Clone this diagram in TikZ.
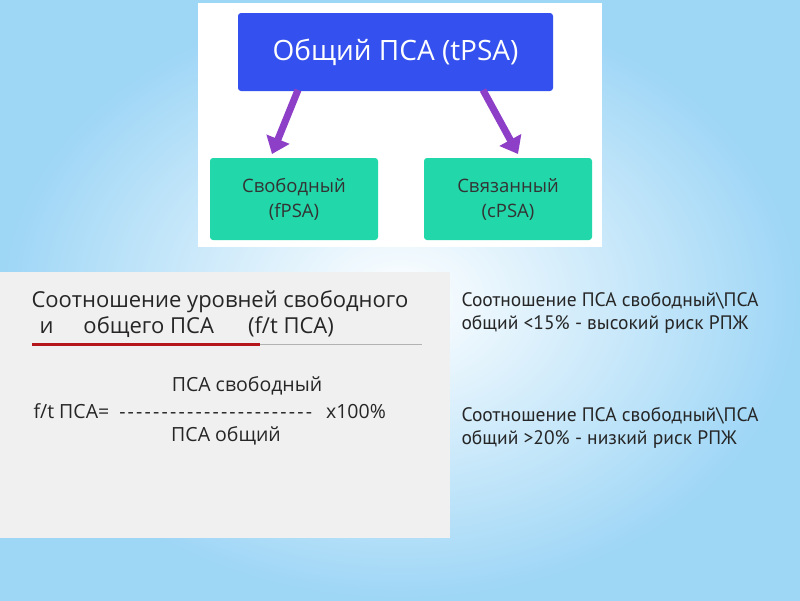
\documentclass[tikz,border=0pt]{standalone}
\usepackage{fontspec}
\setmainfont{Open Sans}
\newfontfamily\ptsans{PT Sans}
\usetikzlibrary{arrows.meta}
\definecolor{topblue}{HTML}{3450EE}
\definecolor{boxgreen}{HTML}{22D8AA}
\definecolor{arrowviolet}{HTML}{8E3FC8}
\definecolor{bgblue}{HTML}{9ED6F6}
\definecolor{panelgray}{HTML}{F0F0F0}
\definecolor{lineRed}{HTML}{B5161B}
\newcommand\fracdashes{\foreach \k in {1,...,22}{-\kern2.2pt}-}
\tikzset{
  topbox/.style={rectangle, rounded corners=3pt, fill=topblue, text=white, minimum width=315pt, minimum height=78pt, font=\fontsize{28}{32}\selectfont},
  kindbox/.style={rectangle, rounded corners=3pt, fill=boxgreen, text=black!80, minimum width=168pt, minimum height=82pt, align=center, font=\fontsize{18.5}{25}\selectfont},
  arrow/.style={line width=7pt, arrowviolet, -{Triangle[length=16pt,width=24pt]}},
  sidetext/.style={anchor=north west, align=left, text=black!85, font=\ptsans\fontsize{19.5}{23}\selectfont}
}
\begin{document}
\begin{tikzpicture}[x=1pt,y=-1pt]
\useasboundingbox (0,0) rectangle (800,600);
\shade[inner color=white, outer color=bgblue] (0,0) rectangle (800,600);
\fill[white] (198,3) rectangle (602,247);
\fill[panelgray] (0,272) rectangle (450,538);
\node (total) [topbox] at (395.5,52) {Общий ПСА (tPSA)};
\node (free) [kindbox] at (294,199) {Свободный\\(fPSA)};
\node (bound) [kindbox] at (508,199) {Связанный\\(cPSA)};
\draw [arrow] (298,90) -- (272,154);
\draw [arrow] (483,90) -- (518,154);
% formula panel
\node (head) [anchor=north west, align=left, font=\fontsize{22}{26}\selectfont, text=black!85] at (28,287) {Соотношение уровней свободного\\\hspace*{8pt}и\hspace{30pt}общего ПСА\hspace{34pt}(f/t ПСА)};
\coordinate (lineA) at (32,344);
\coordinate (lineB) at (260,344);
\coordinate (lineC) at (422,344);
\draw [lineRed, line width=3pt] (lineA) -- (lineB);
\draw [gray!60, line width=0.6pt] (lineB) -- (lineC);
\node (num) [font=\fontsize{19.5}{22}\selectfont, text=black!85] at (247,386) {ПСА свободный};
\node (lhs) [anchor=west, font=\fontsize{19.5}{22}\selectfont, text=black!85] at (30,411) {f/t ПСА=\hspace{10pt}\fracdashes\hspace{14pt}x100\%};
\node (den) [font=\fontsize{19.5}{22}\selectfont, text=black!85] at (226,436) {ПСА общий};
% side notes
\node (high) [sidetext] at (458,289) {Соотношение ПСА свободный\textbackslash ПСА\\общий <15\% - высокий риск РПЖ};
\node (low) [sidetext] at (458,404) {Соотношение ПСА свободный\textbackslash ПСА\\общий >20\% - низкий риск РПЖ};
\end{tikzpicture}
\end{document}
